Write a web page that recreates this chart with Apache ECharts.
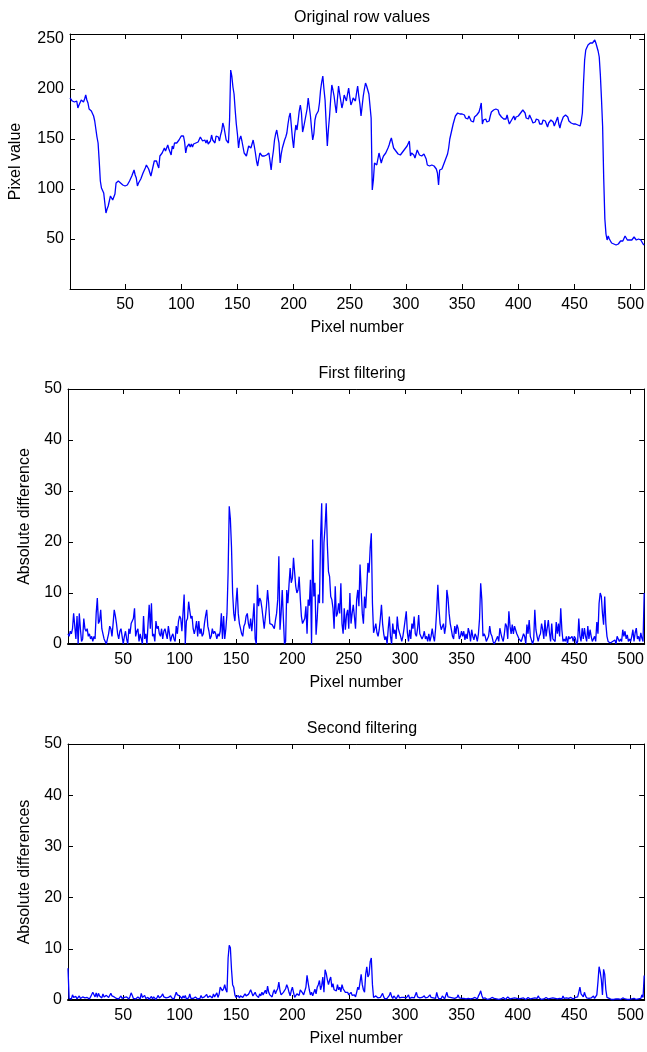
<!DOCTYPE html>
<html>
<head>
<meta charset="utf-8">
<script src="https://cdn.jsdelivr.net/npm/echarts@6/dist/echarts.min.js"></script>
<style>
html,body{margin:0;padding:0;background:#fff;}
#chart{width:647px;height:1052px;}
</style>
</head>
<body>
<div id="chart"></div>
<script>
// ---- Data ----
const titles = ['Original row values', 'First filtering', 'Second filtering'];
const yNames = ['Pixel value', 'Absolute difference', 'Absolute differences'];
const xName = 'Pixel number';
const xTickValues = [50, 100, 150, 200, 250, 300, 350, 400, 450, 500];
const yTickValuesRow = [50, 100, 150, 200, 250];
const yTickValuesDiff = [0, 10, 20, 30, 40, 50];

const rowValues = [
191,190,188,189,187,189,188,181,184,186,
189,188,187,190,194,189,186,180,179,178,
176,173,168,160,152,146,128,108,101,99,
96,86,76,80,83,88,93,91,89,91,
95,106,108,108,107,106,105,104,102,103,
103,104,106,108,110,113,116,119,114,111,
103,106,108,110,112,116,118,121,124,123,
120,118,113,118,123,128,127,128,124,121,
133,131,136,134,141,138,140,144,140,137,
134,143,140,146,144,146,145,149,148,153,
152,153,147,136,142,143,145,142,145,142,
145,143,146,145,147,147,152,151,148,147,
149,146,149,145,147,148,154,149,149,146,
153,155,152,148,154,158,166,162,161,149,
147,146,169,219,213,202,195,179,165,155,
141,150,153,148,142,136,134,133,138,143,
141,141,145,149,143,136,128,123,130,136,
134,133,131,133,135,134,133,136,128,119,
130,138,149,155,159,152,146,126,135,141,
145,149,152,156,165,172,176,163,150,141,
155,164,159,168,178,184,176,157,162,168,
168,180,191,182,173,160,149,155,169,174,
172,178,186,199,207,213,200,189,165,143,
160,173,190,204,199,193,184,176,190,203,
195,188,181,186,194,191,188,195,201,192,
184,187,191,189,188,196,203,193,185,173,
183,193,200,206,203,199,195,193,171,99,
109,126,125,124,130,136,131,126,130,133,
134,136,138,141,144,148,151,146,141,139,
138,136,135,134,134,135,137,138,140,141,
143,145,148,133,136,138,134,131,135,139,
137,134,135,133,133,135,136,130,124,124,
123,123,124,124,123,123,120,116,104,119,
119,120,122,126,129,131,135,141,150,155,
160,165,169,173,174,176,174,175,177,175,
173,174,171,172,170,173,171,168,170,167,
172,170,174,175,177,181,186,165,169,168,
170,167,169,168,173,177,175,179,177,180,
178,179,175,176,172,174,170,172,170,174,
169,165,163,169,170,173,169,172,170,173,
172,176,175,179,177,176,171,173,170,174,
172,169,166,164,167,170,168,169,165,167,
165,169,170,168,167,162,166,165,169,167,
167,163,166,167,172,165,161,166,167,172,
170,174,172,172,168,169,166,167,165,167,
165,167,164,165,163,168,176,206,229,239,
241,244,245,246,244,246,248,249,246,244,
238,232,214,190,163,110,70,55,49,53,
50,48,46,45,45,44,44,44,45,47,
48,48,48,50,53,51,49,49,49,49,
49,50,52,53,49,50,50,50,49,47,
45,44
];

const firstFilter = [
2,1.5,2.5,2,3,6,3.5,1,5.5,0,
6,3,0.5,1,5,3,2.5,3,1.5,2,
1,1.5,0.5,1.5,1,6,9,4,4.5,6.7,
3,2,1,0.5,0,1,2,3.5,3,1.5,
4,6.7,5.5,4,2,1,2.5,3,1.5,0,
1.5,2.5,1,0,3,2,4,4.5,5,7,
1.5,2.5,3,0.5,2,1,0,5.5,1,2,
0,4,7.7,3,8,1.5,2,0.5,4.5,3,
3.5,2,1.5,3,1,2.5,3,2,1,3.5,
2,0.5,1.5,2,1,0.5,3.5,2,4.5,5.5,
5,2.5,6,9.7,0,4.5,5,8.3,6.5,5,
5.5,3,2,3,4.5,1.5,4.5,2,3,1.5,
2,4,5.5,6.7,3.5,2.5,1,1.5,3,2,
2.5,2,1,2,1.5,2.5,6,1,5.5,1,
3,6,14,27,24.5,19,10,6,4.5,8,
11,6,4,3,2,1.5,3.5,4,5.5,6,
4,3,5,2.5,5,8,1,0,11.6,7.4,
9,8.5,7,7,3,2.8,7.4,10.6,8,4,
4,3.8,4,3,4.7,6,8.7,17.2,2.8,6,
10.6,5,0,0.5,10.6,8,11.6,14.9,12,12.9,
16.9,14,11.3,10,10.6,13.2,9,5.4,4,3.8,
5,7.4,2,8.7,7.5,12.6,0,20.5,9.3,12,
1.8,5,9.7,8,20.8,27.6,8,19.8,23,27.6,
19.5,14.2,13.2,9.3,8.7,7,3,11.3,5.4,6,
8,6,11.9,4,2,7,2.8,5.7,6.7,3,
10,4,6,7.7,5.4,3,8.7,10.6,7.4,15.6,
10.6,6,4,9.3,7,11.3,15.9,14,18.8,21.7,
8,2.2,3,4,2.2,1.5,2.8,5,7.7,4,
2,0.8,1.5,0,3,5.4,1.5,0,4,2,
2.8,1,5.4,3,2.2,1.5,0.5,1.5,3,4.7,
6.4,2.2,0.5,2.8,1,4,3,5.4,2,1.5,
3,5.7,2,2.2,1,1.5,2.5,1,1.5,0.5,
2,0.5,1.5,3,1.5,0.5,3,6.7,11.6,7,
4,2.8,3,4,2,3.5,10.6,9,6,4,
2.8,1.5,1,3.5,2,3.8,3,1,1.5,2.5,
1.5,2.5,0.8,2,1,3.1,2.2,0.5,2.8,1.5,
0.8,2,1.5,0.5,2,5,11.9,8.7,1.5,2,
1.5,0.5,0.8,1.5,3.5,2,1.5,0.5,0,0.2,
1,1.5,0.5,3.1,2,1.1,0.5,2,4,3.5,
1,6.4,3.5,2,3.8,2,3.5,3.5,2,1.5,
1,1.1,0.5,0.5,2,1.5,0,3.8,2,4.7,
1.5,0.8,0,0.8,6.7,2.8,1.5,0.5,1.5,2,
4,2.8,1,4.7,1.5,1.5,4.7,2.2,0.5,4,
1,1.1,0.5,4.3,2,4,1.5,7,2.8,0.5,
1,0.5,1.5,0,1.5,1,0.8,1.5,0.5,1.5,
1.1,0,0.5,5,1.5,0.5,3.1,1,3.1,1.5,
0.5,3.5,1,2.8,1.5,0.5,1,1.5,0.5,4.3,
2,8,10,9.3,6,3.8,9.3,4,1.5,0.5,
0.5,0.2,0,0.5,0.2,0.8,0,1.5,1,0.5,
1,0.5,2.8,1.5,2.5,1,1.8,0.5,1,0.5,
1.5,2.8,0.5,2.2,3.1,1,1.5,0.5,2.2,1.1,
0.5,10
];

const secondFilter = [
6.2,0.3,0.5,0.2,1,0.5,0.3,0.7,0.2,0.4,
0.8,0.3,0.2,0.6,0.9,0.4,0.1,0.5,0.3,0.2,
0.6,0.4,1.5,1.2,0.6,1.4,0.5,1.3,0.8,1.1,
0.4,1.2,0.6,0.3,0.9,1.0,0.5,0.4,1.3,0.8,
1.1,0.6,0.9,0.3,0.6,0.2,0.4,0.8,0.3,0.1,
0.5,0.2,0.6,0.4,0.2,0.7,1.4,0.9,0.3,0.5,
0.2,0.1,0.6,0.3,0.2,1.3,0.5,0.8,0.9,0.3,
0.2,0.5,0.1,0.3,0.7,0.2,0.6,0.4,0.1,0.5,
0.9,0.4,0.2,0.8,1.2,0.6,0.9,0.4,0.2,0.5,
0.3,0.8,0.4,0.6,0.2,0.4,1.5,1.0,0.7,0.8,
0.6,0.3,0.8,0.4,0.9,0.2,0.5,0.4,1.2,0.3,
0.1,0.3,0.2,0.6,0.4,0.2,0.1,0.3,0.9,0.4,
0.2,0.6,0.3,1.1,0.5,0.2,0.8,1.0,0.4,1.2,
0.6,0.9,1.4,0.5,1.1,2.5,2.7,1.8,2.2,3.0,
2.0,1.5,8.2,10.7,10.2,6.0,3.0,2.5,1.0,0.5,
0.6,0.9,0.4,0.8,1.0,0.5,0.7,1.2,0.8,0.6,
1.1,1.5,2.0,1.4,0.8,1.0,1.5,0.9,0.6,0.5,
1.2,0.8,1.5,1.0,0.7,1.9,1.2,2.7,1.5,1.0,
1.0,0.6,1.5,2.0,1.2,1.8,2.2,3.5,1.8,1.0,
0.7,1.5,1.2,2.2,3.0,2.4,1.5,0.8,1.8,2.5,
1.5,0.5,0.8,1.2,1.5,0.9,2.0,2.2,1.4,1.0,
1.0,2.5,4.8,3.3,2.0,1.0,1.5,0.8,1.0,2.1,
1.2,2.5,3.0,3.8,2.0,2.8,4.5,1.5,5.9,5.2,
4.0,3.0,3.9,4.5,2.5,3.2,2.0,2.2,1.8,3.0,
2.0,2.5,1.6,3.0,2.2,2.0,1.5,1.2,1.5,1.0,
1.3,1.5,0.9,1.2,1.0,0.6,1.5,2.5,2.0,3.5,
5.0,3.0,2.0,1.5,5.0,6.5,4.5,5.0,7.5,8.2,
3.0,0.5,0.3,0.8,1.0,0.4,0.2,0.5,0.3,1.3,
0.6,0.2,0.5,0.3,0.4,0.9,1.5,0.7,0.3,0.8,
0.5,0.2,0.6,1.0,0.4,0.2,0.5,0.3,0.5,0.2,
0.4,0.7,1.0,0.3,0.2,0.5,0.8,0.4,0.2,1.5,
0.6,0.3,0.4,0.2,0.5,0.3,0.8,0.4,0.2,0.5,
0.3,1.0,0.5,0.2,0.4,0.7,0.3,1.5,0.6,0.2,
0.4,0.3,0.8,0.5,0.2,0.4,1.5,0.6,0.3,0.5,
0.2,0.4,0.6,0.3,0.2,0.5,1.0,0.4,0.2,0.3,
0.1,0.3,0.5,0.2,0.4,0.3,0.1,0.2,0.4,0.3,
0.2,0.5,0.3,0.2,0.8,1.2,1.8,0.9,0.3,0.2,
0.4,0.2,0.1,0.3,0.2,0.4,0.5,0.2,0.3,0.1,
0.2,0.3,0.1,0.4,0.2,0.3,0.5,0.2,0.1,0.3,
0.6,0.3,0.2,0.1,0.3,0.2,0.4,0.2,0.3,0.5,
0.2,0.1,0.3,0.2,0.4,0.3,0.1,0.2,0.5,0.3,
0.2,0.1,0.3,0.2,0.4,0.2,0.3,0.8,0.4,0.2,
0.1,0.3,0.2,0.4,0.5,0.3,0.2,0.1,0.3,0.2,
0.4,0.2,0.3,0.1,0.2,0.4,0.3,0.5,0.2,0.8,
0.3,0.2,0.4,0.1,0.3,0.2,0.5,0.3,0.2,0.1,
0.5,0.3,0.6,1.5,2.5,1.2,1.0,0.6,1.5,0.8,
0.4,0.5,0.3,0.6,0.4,0.5,0.8,0.3,0.5,1.0,
3.5,6.5,5.5,4.0,1.0,6.0,5.0,2.0,0.5,0.3,
0.3,0.2,0.1,0.2,0.1,0.3,0.2,0.1,0.2,0.3,
0.1,0.2,0.4,0.1,0.2,0.3,0.1,0.2,0.1,0.3,
0.2,0.1,0.3,0.2,0.1,0.4,0.2,0.5,0.3,1.0,
0.5,4.8
];

// ---- Chart construction ----
const FONT = "'Liberation Sans', Arial, Helvetica, sans-serif";
const INK = '#000';
const gridsPx = [
  { top: 34, height: 255 },
  { top: 389, height: 255 },
  { top: 744, height: 256 }
];
const titleTops = [5, 361, 716];
const yNameGaps = [46, 35, 35];
const bottomLineWidths = [1, 2, 2];
const seriesValues = [rowValues, firstFilter, secondFilter];
const yRanges = [
  { min: 0, max: 255, ticks: yTickValuesRow },
  { min: 0, max: 50, ticks: yTickValuesDiff },
  { min: 0, max: 50, ticks: yTickValuesDiff }
];

const grid = [], xAxis = [], yAxis = [], series = [], title = [];
const lineSt = { color: INK, width: 1 };

for (let i = 0; i < 3; i++) {
  grid.push({ left: 68, right: 1.5, top: gridsPx[i].top, height: gridsPx[i].height, containLabel: false });
  title.push({
    text: titles[i], left: 357, top: titleTops[i], textAlign: 'center',
    textStyle: { fontFamily: FONT, fontSize: 16, fontWeight: 'normal', color: INK }
  });
  xAxis.push({
    gridIndex: i, type: 'value', min: 1, max: 512, position: 'bottom',
    axisLine: { show: true, onZero: false, lineStyle: { color: INK, width: bottomLineWidths[i] } },
    axisTick: { show: true, inside: true, length: 5, customValues: xTickValues, lineStyle: lineSt },
    axisLabel: { show: true, customValues: xTickValues, fontFamily: FONT, fontSize: 16, color: INK, margin: 8 },
    splitLine: { show: false },
    name: xName, nameLocation: 'middle', nameGap: 31,
    nameTextStyle: { fontFamily: FONT, fontSize: 16, color: INK }
  });
  xAxis.push({
    gridIndex: i, type: 'value', min: 1, max: 512, position: 'top',
    axisLine: { show: true, onZero: false, lineStyle: lineSt },
    axisTick: { show: true, inside: true, length: 5, customValues: xTickValues, lineStyle: lineSt },
    axisLabel: { show: false },
    splitLine: { show: false }
  });
  yAxis.push({
    gridIndex: i, type: 'value', min: yRanges[i].min, max: yRanges[i].max, position: 'left',
    axisLine: { show: true, onZero: false, lineStyle: lineSt },
    axisTick: { show: true, inside: true, length: 5, customValues: yRanges[i].ticks, lineStyle: lineSt },
    axisLabel: { show: true, customValues: yRanges[i].ticks, fontFamily: FONT, fontSize: 16, color: INK, margin: 6 },
    splitLine: { show: false },
    name: yNames[i], nameLocation: 'middle', nameGap: yNameGaps[i], nameRotate: 90,
    nameTextStyle: { fontFamily: FONT, fontSize: 16, color: INK }
  });
  yAxis.push({
    gridIndex: i, type: 'value', min: yRanges[i].min, max: yRanges[i].max, position: 'right',
    axisLine: { show: true, onZero: false, lineStyle: lineSt },
    axisTick: { show: true, inside: true, length: 5, customValues: yRanges[i].ticks, lineStyle: lineSt },
    axisLabel: { show: false },
    splitLine: { show: false }
  });
  const vals = seriesValues[i];
  series.push({
    type: 'line', xAxisIndex: 2 * i, yAxisIndex: 2 * i,
    data: vals.map((v, k) => [k + 1, v]),
    showSymbol: false, symbol: 'none',
    lineStyle: { color: '#0000ff', width: 1.3 },
    itemStyle: { color: '#0000ff' },
    z: 1
  });
}

const chart = echarts.init(document.getElementById('chart'), null, { renderer: 'canvas' });
chart.setOption({
  animation: false,
  backgroundColor: '#fff',
  title, grid, xAxis, yAxis, series
});
</script>
</body>
</html>
